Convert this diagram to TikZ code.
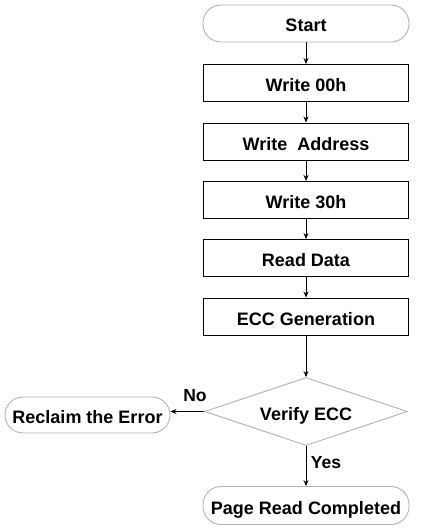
\documentclass[tikz,border=0pt]{standalone}
\usepackage{fontspec}
\setmainfont{Liberation Sans}
\usetikzlibrary{shapes.geometric,arrows.meta}
\begin{document}
\begin{tikzpicture}[x=1pt,y=-1pt,
  every node/.style={font=\fontsize{18}{20}\selectfont\bfseries, inner sep=0pt},
  boxtext/.style={text height=17pt, text depth=0pt},
  procbox/.style={boxtext, draw=black, line width=1pt, rectangle, minimum width=205pt, minimum height=37pt},
  termbox/.style={boxtext, draw=black!30, line width=0.9pt, rectangle, rounded corners=18pt, minimum height=37pt},
  decbox/.style={draw=black!30, line width=0.9pt, diamond, minimum width=203pt, minimum height=68pt},
  flow/.style={draw=black, line width=1pt, -{Stealth[length=6pt,width=5pt]}},
  lbl/.style={font=\fontsize{17.5}{20}\selectfont\bfseries}
]
\useasboundingbox (0,0) rectangle (436,532);
\node[termbox, minimum width=206pt] (start) at (306,23.5) {Start};
\node[procbox] (w00) at (306,83) {Write 00h};
\node[procbox] (wad) at (306,141.5) {Write\ \ Address};
\node[procbox] (w30) at (306,200) {Write 30h};
\node[procbox] (rd) at (306,258) {Read Data};
\node[procbox] (ecc) at (306,316.5) {ECC Generation};
\node[decbox] (ver) at (306,411.5) {};
\node[boxtext] (vertext) at (ver) {Verify ECC};
\node[termbox, minimum width=165pt, minimum height=36pt] (rec) at (87.5,415) {Reclaim the Error};
\node[termbox, minimum width=206pt, minimum height=38pt] (prc) at (306,505.5) {Page Read Completed};
\draw[flow] (start) -- (w00);
\draw[flow] (w00) -- (wad);
\draw[flow] (wad) -- (w30);
\draw[flow] (w30) -- (rd);
\draw[flow] (rd) -- (ecc);
\draw[flow] (ecc) -- (ver);
\draw[flow] (ver.west) -- (rec.east |- ver.west);
\draw[flow] (ver) -- (prc);
\node[lbl] (no) at (195,395.5) {No};
\node[lbl] (yes) at (326,462.5) {Yes};
\end{tikzpicture}
\end{document}
